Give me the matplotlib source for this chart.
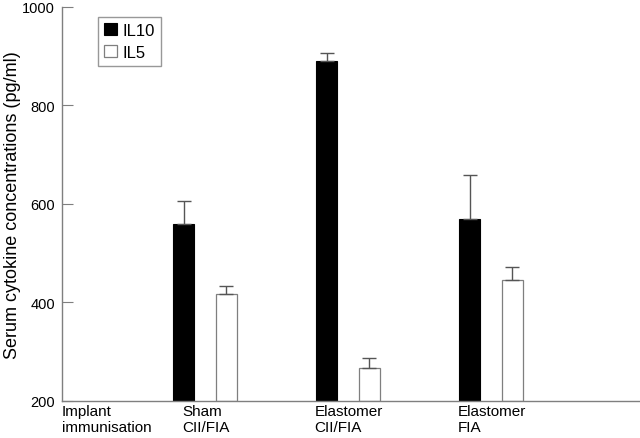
import matplotlib
matplotlib.use("Agg")
import matplotlib.pyplot as plt
import numpy as np

plt.rcParams['font.family'] = ['Liberation Sans', 'DejaVu Sans']

# groups (first label is the row header, no bars)
labels = ["Implant\nimmunisation", "Sham\nCII/FIA", "Elastomer\nCII/FIA", "Elastomer\nFIA"]
il10 = [559, 891, 570]
il10_err = [48, 15, 89]
il5 = [417, 266, 446]
il5_err = [17, 22, 26]

x = np.arange(1, len(il10) + 1)
w = 0.147
off = 0.297
base = 200
axcol = '#7f7f7f'

fig = plt.figure(figsize=(6.4, 4.39), dpi=100)
ax = fig.add_axes([0.097, 0.0843, 0.903, 0.8975])

b1 = ax.bar(x, np.array(il10) - base, w, bottom=base, color='black', edgecolor='black', linewidth=0.8)
b2 = ax.bar(x + off, np.array(il5) - base, w, bottom=base, color='white', edgecolor=axcol, linewidth=0.9)
ax.errorbar(x, il10, yerr=[np.zeros(3), il10_err], fmt='none', ecolor='#555555', elinewidth=1, capsize=5, capthick=1)
ax.errorbar(x + off, il5, yerr=[np.zeros(3), il5_err], fmt='none', ecolor='#555555', elinewidth=1, capsize=5, capthick=1)

ax.set_xlim(0.15, 4.19)
ax.set_ylim(200, 1000)
ax.set_yticks([200, 400, 600, 800, 1000])
ax.set_xticks([])
ax.tick_params(axis='y', direction='in', length=8, color=axcol, labelsize=10.5, pad=5)
for s in ['top', 'right']:
    ax.spines[s].set_visible(False)
for s in ['left', 'bottom']:
    ax.spines[s].set_color(axcol)
    ax.spines[s].set_linewidth(1)

ax.set_ylabel("Serum cytokine concentrations (pg/ml)", fontsize=13, labelpad=1)

# category labels, left aligned under the bars
label_x = [0.15, 0.99, 1.913, 2.916]
for lx, lab in zip(label_x, labels):
    ax.text(lx, -0.008, lab, transform=ax.get_xaxis_transform(), ha='left', va='top',
            fontsize=11, linespacing=1.2)

leg = ax.legend([b1, b2], ["IL10", "IL5"], loc='upper left', bbox_to_anchor=(0.062, 0.975),
                fontsize=12, frameon=True, fancybox=False, handlelength=0.8, handleheight=0.8,
                handletextpad=0.35, borderpad=0.35, labelspacing=0.4, borderaxespad=0)
leg.get_frame().set_edgecolor(axcol)
leg.get_frame().set_linewidth(1)

fig.savefig("out.png", dpi=100)
